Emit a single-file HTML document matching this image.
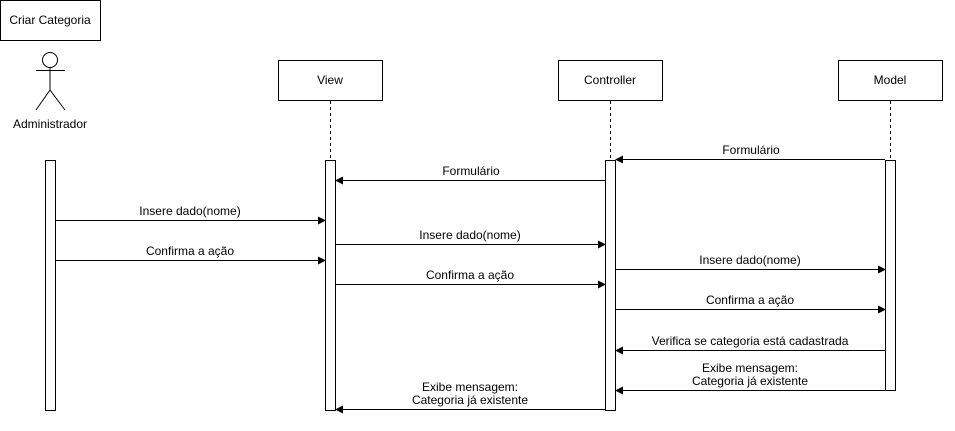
<!DOCTYPE html>
<html><head><meta charset="utf-8"><style>
html,body{margin:0;padding:0;background:#fff;}
svg{display:block;}
text{font-family:"Liberation Sans",Arial,sans-serif;font-size:12px;fill:#000;}
</style></head><body>
<svg width="955" height="431" viewBox="0 0 955 431" xmlns="http://www.w3.org/2000/svg">
<defs>
<marker id="a" markerWidth="8" markerHeight="8" refX="7" refY="4" orient="auto" markerUnits="userSpaceOnUse">
<path d="M0,0 L8,4 L0,8 Z" fill="#000"/>
</marker>
</defs>
<g fill="#fff" stroke="#000" stroke-width="1">
<rect x="0.5" y="0.5" width="100" height="40"/>
<rect x="278.5" y="60.5" width="104" height="40"/>
<rect x="558.5" y="60.5" width="104" height="40"/>
<rect x="838.5" y="60.5" width="104" height="40"/>
</g>
<text x="50" y="24" text-anchor="middle">Criar Categoria</text>
<text x="330" y="84" text-anchor="middle">View</text>
<text x="610" y="84" text-anchor="middle">Controller</text>
<text x="890" y="84" text-anchor="middle">Model</text>
<g stroke="#000" fill="none" stroke-width="1">
<circle cx="50" cy="60" r="7.5" fill="#fff"/>
<line x1="50" y1="67.5" x2="50" y2="90"/>
<line x1="36" y1="70.5" x2="65" y2="70.5"/>
<line x1="50" y1="90" x2="36" y2="110"/>
<line x1="50" y1="90" x2="65" y2="110"/>
</g>
<text x="50" y="128" text-anchor="middle">Administrador</text>
<g stroke="#000" stroke-dasharray="3,3">
<line x1="330.5" y1="101" x2="330.5" y2="160"/>
<line x1="610.5" y1="101" x2="610.5" y2="160"/>
<line x1="890.5" y1="101" x2="890.5" y2="160"/>
</g>
<g fill="#fff" stroke="#000">
<rect x="45.5" y="160.5" width="10" height="250"/>
<rect x="325.5" y="160.5" width="10" height="250"/>
<rect x="605.5" y="160.5" width="10" height="250"/>
<rect x="885.5" y="160.5" width="10" height="230"/>
</g>
<g stroke="#000" stroke-width="1" marker-end="url(#a)">
<line x1="885" y1="159.5" x2="616" y2="159.5"/>
<line x1="605" y1="180.5" x2="336" y2="180.5"/>
<line x1="56" y1="220.5" x2="325" y2="220.5"/>
<line x1="56" y1="260.5" x2="325" y2="260.5"/>
<line x1="336" y1="244.5" x2="605" y2="244.5"/>
<line x1="336" y1="284.5" x2="605" y2="284.5"/>
<line x1="616" y1="269.5" x2="885" y2="269.5"/>
<line x1="616" y1="309.5" x2="885" y2="309.5"/>
<line x1="885" y1="350.5" x2="616" y2="350.5"/>
<line x1="885" y1="390.5" x2="616" y2="390.5"/>
<line x1="605" y1="409.5" x2="336" y2="409.5"/>
</g>
<g text-anchor="middle">
<text x="751" y="154">Formulário</text>
<text x="471" y="175">Formulário</text>
<text x="190" y="215">Insere dado(nome)</text>
<text x="190" y="255">Confirma a ação</text>
<text x="470" y="239">Insere dado(nome)</text>
<text x="470" y="279">Confirma a ação</text>
<text x="750" y="264">Insere dado(nome)</text>
<text x="750" y="304">Confirma a ação</text>
<text x="750" y="345">Verifica se categoria está cadastrada</text>
<text x="750" y="372">Exibe mensagem:</text>
<text x="750" y="385">Categoria já existente</text>
<text x="470" y="391">Exibe mensagem:</text>
<text x="470" y="404">Categoria já existente</text>
</g>
</svg>
</body></html>
